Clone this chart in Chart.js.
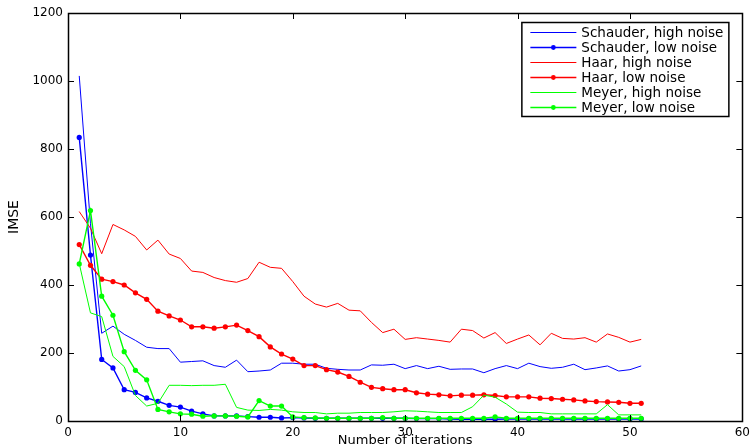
<!DOCTYPE html>
<html>
<head>
<meta charset="utf-8">
<script src="https://cdn.jsdelivr.net/npm/chart.js@4/dist/chart.umd.min.js"></script>
<style>
  html, body { margin: 0; padding: 0; background: #fff; }
  #wrap { width: 755px; height: 448px; }
</style>
</head>
<body>
<div id="wrap"><canvas id="c" width="755" height="448"></canvas></div>
<script>
// Iteration index (x axis)
const iterations = [1, 2, 3, 4, 5, 6, 7, 8, 9, 10, 11, 12, 13, 14, 15, 16, 17, 18, 19, 20,
  21, 22, 23, 24, 25, 26, 27, 28, 29, 30, 31, 32, 33, 34, 35, 36, 37, 38, 39, 40,
  41, 42, 43, 44, 45, 46, 47, 48, 49, 50, 51];

// IMSE per iteration for each basis / noise level
const schauderHigh = [1015, 580, 258, 279, 255, 237, 217, 213, 213, 173, 175, 177, 163, 158, 179, 145, 147, 150, 170, 170,
  167, 167, 155, 152, 150, 150, 165, 164, 167, 154, 163, 154, 161, 152, 153, 153, 142, 154, 163, 154,
  170, 160, 155, 158, 167, 151, 156, 162, 147, 151, 162];
const schauderLow = [834, 488, 181, 156, 92, 84, 68, 58, 46, 41, 29, 21, 15, 15, 15, 13, 11, 11, 9, 10,
  9, 8, 8, 8, 8, 8, 8, 8, 8, 8, 7, 7, 7, 6, 5, 5, 5, 5, 6, 6,
  6, 6, 6, 6, 6, 6, 6, 6, 6, 6, 6];
const haarHigh = [616, 567, 492, 578, 562, 543, 503, 532, 491, 478, 441, 437, 422, 413, 408, 419, 467, 452, 449, 410,
  367, 344, 335, 346, 326, 324, 290, 260, 270, 240, 245, 241, 237, 232, 270, 266, 244, 260, 228, 241,
  253, 224, 258, 243, 241, 245, 232, 256, 246, 232, 240];
const haarLow = [519, 458, 417, 410, 400, 377, 358, 323, 309, 297, 277, 277, 273, 277, 282, 266, 248, 218, 197, 182,
  163, 163, 151, 144, 131, 114, 99, 95, 92, 92, 83, 79, 77, 74, 76, 76, 77, 75, 71, 71,
  71, 67, 66, 64, 62, 59, 57, 56, 55, 52, 52];
const meyerHigh = [463, 318, 307, 190, 160, 75, 44, 52, 105, 105, 104, 105, 105, 108, 40, 32, 31, 34, 32, 27,
  25, 25, 21, 23, 23, 25, 25, 25, 27, 30, 29, 27, 25, 25, 25, 42, 76, 70, 50, 26,
  25, 25, 21, 21, 21, 21, 21, 48, 18, 18, 18];
const meyerLow = [462, 619, 367, 311, 204, 149, 121, 34, 27, 21, 20, 14, 15, 15, 14, 12, 60, 44, 44, 12,
  10, 9, 8, 8, 8, 8, 8, 10, 8, 8, 8, 8, 8, 8, 8, 8, 8, 12, 8, 8,
  8, 8, 8, 8, 8, 8, 8, 8, 8, 8, 8];

const seriesNames = ['Schauder, high noise', 'Schauder, low noise', 'Haar, high noise',
  'Haar, low noise', 'Meyer, high noise', 'Meyer, low noise'];

// Axis ranges and tick steps
const xRange = [0, 60];
const xStep = 10;
const yRange = [0, 1200];
const yStep = 200;

const FONT = '"DejaVu Sans", Verdana, sans-serif';

function pts(vals) {
  return vals.map((v, i) => ({ x: iterations[i], y: v }));
}

function series(label, vals, color, marker, order) {
  return {
    label,
    data: pts(vals),
    borderColor: color,
    backgroundColor: color,
    borderWidth: marker ? 1.4 : 1,
    pointRadius: marker ? 2.6 : 0,
    pointBorderWidth: 0,
    pointHoverRadius: 0,
    tension: 0,
    order,
    marker
  };
}

const datasets = [
  series(seriesNames[0], schauderHigh, '#0000ff', false, 6),
  series(seriesNames[1], schauderLow, '#0000ff', true, 5),
  series(seriesNames[2], haarHigh, '#ff0000', false, 4),
  series(seriesNames[3], haarLow, '#ff0000', true, 3),
  series(seriesNames[4], meyerHigh, '#00ff00', false, 2),
  series(seriesNames[5], meyerLow, '#00ff00', true, 1)
];

// Box around the plot with inward ticks on all four sides
const boxAndTicks = {
  id: 'boxAndTicks',
  afterDatasetsDraw(chart) {
    const { ctx, chartArea: a, scales } = chart;
    const tl = 6;
    ctx.save();
    ctx.strokeStyle = '#000';
    ctx.lineWidth = 1;
    ctx.beginPath();
    scales.x.ticks.forEach(t => {
      const px = Math.round(scales.x.getPixelForValue(t.value)) + 0.5;
      ctx.moveTo(px, a.bottom); ctx.lineTo(px, a.bottom - tl);
      ctx.moveTo(px, a.top); ctx.lineTo(px, a.top + tl);
    });
    scales.y.ticks.forEach(t => {
      const py = Math.round(scales.y.getPixelForValue(t.value)) + 0.5;
      ctx.moveTo(a.left, py); ctx.lineTo(a.left + tl, py);
      ctx.moveTo(a.right, py); ctx.lineTo(a.right - tl, py);
    });
    ctx.stroke();
    ctx.lineWidth = 1.5;
    ctx.strokeRect(Math.round(a.left) + 0.5, Math.round(a.top) + 0.5,
      Math.round(a.right - a.left), Math.round(a.bottom - a.top));
    ctx.restore();
  }
};

// Legend box in the upper right corner of the plot
const legendBox = {
  id: 'legendBox',
  afterDraw(chart) {
    const { ctx, chartArea: a } = chart;
    const boxW = 207, boxH = 94;
    const bx = a.right - 14 - boxW, by = a.top + 9;
    ctx.save();
    ctx.fillStyle = '#fff';
    ctx.fillRect(bx, by, boxW, boxH);
    ctx.strokeStyle = '#000';
    ctx.lineWidth = 1.5;
    ctx.strokeRect(bx + 0.5, by + 0.5, boxW, boxH);
    ctx.font = '13.5px ' + FONT;
    ctx.textBaseline = 'middle';
    ctx.textAlign = 'left';
    chart.data.datasets.forEach((ds, i) => {
      const ry = by + 10 + i * 15;
      const x0 = bx + 9, x1 = bx + 55;
      ctx.strokeStyle = ds.borderColor;
      ctx.lineWidth = ds.borderWidth;
      ctx.beginPath();
      ctx.moveTo(x0, ry + 0.5); ctx.lineTo(x1, ry + 0.5);
      ctx.stroke();
      if (ds.marker) {
        ctx.fillStyle = ds.backgroundColor;
        ctx.beginPath();
        ctx.arc((x0 + x1) / 2, ry + 0.5, 2.4, 0, Math.PI * 2);
        ctx.fill();
      }
      ctx.fillStyle = '#000';
      ctx.fillText(ds.label, bx + 60, ry + 1);
    });
    ctx.restore();
  }
};

new Chart(document.getElementById('c'), {
  type: 'line',
  data: { datasets },
  options: {
    responsive: false,
    animation: false,
    devicePixelRatio: 1,
    layout: { padding: { top: 13, right: 9, left: 0, bottom: 0 } },
    plugins: { legend: { display: false }, tooltip: { enabled: false } },
    elements: { line: { fill: false } },
    scales: {
      x: {
        type: 'linear',
        min: xRange[0], max: xRange[1],
        ticks: { stepSize: xStep, color: '#000', padding: 5, font: { family: FONT, size: 12 }, maxRotation: 0,
          callback: v => String(v) },
        grid: { display: false, drawTicks: false },
        border: { display: false },
        title: { display: true, text: 'Number of iterations', color: '#000', font: { family: FONT, size: 13 }, padding: 0 },
        afterFit(s) { s.height = 27; }
      },
      y: {
        type: 'linear',
        min: yRange[0], max: yRange[1],
        ticks: { stepSize: yStep, color: '#000', padding: 5, font: { family: FONT, size: 12 },
          callback: v => String(v) },
        grid: { display: false, drawTicks: false },
        border: { display: false },
        title: { display: true, text: 'IMSE', color: '#000', font: { family: FONT, size: 14 }, padding: { top: 6, bottom: 0 } },
        afterFit(s) { s.width = 68; }
      }
    }
  },
  plugins: [boxAndTicks, legendBox]
});
</script>
</body>
</html>
